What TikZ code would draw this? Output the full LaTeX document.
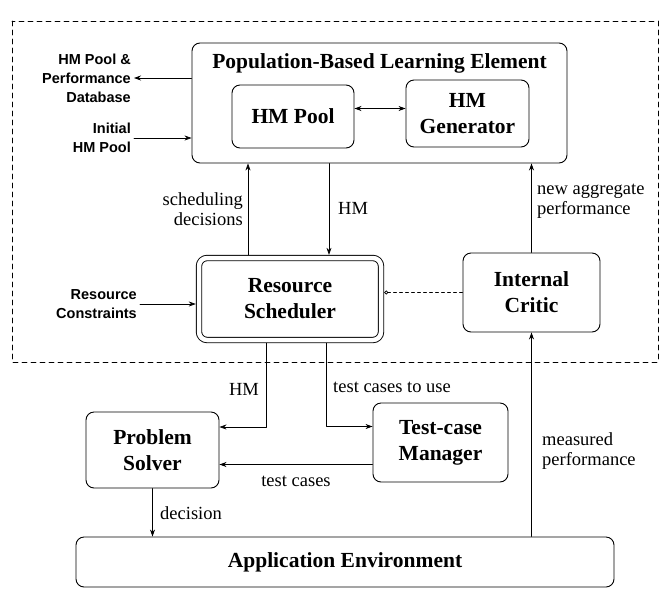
\documentclass[tikz,border=0pt]{standalone}
\usepackage{fontspec}
\setmainfont{Liberation Serif}
\newfontfamily\sidefont{Liberation Sans}
\usetikzlibrary{arrows.meta}
\tikzset{
  every picture/.style={line join=round, line cap=round, >={Stealth[length=7pt,width=5pt]}},
  block/.style={draw, line width=0.9pt, rounded corners=8pt, align=center,
    font=\bfseries\fontsize{21.5}{26}\selectfont},
  flow/.style={->, line width=0.7pt},
  sidelabel/.style={align=right, inner sep=3pt,
    font=\sidefont\bfseries\fontsize{14.5}{19}\selectfont},
  edgelabel/.style={align=left, inner sep=2pt, font=\fontsize{18.5}{20}\selectfont},
}

\begin{document}
\begin{tikzpicture}[x=1pt,y=-1pt]
\useasboundingbox (0,0) rectangle (662,590);
\draw[line width=0.8pt, dash pattern=on 5pt off 4pt] (12,21) rectangle (658,362);
% learning element
\node[block, minimum width=375pt, minimum height=120pt] (pble) at (379.5,103) {};
\node[font=\bfseries\fontsize{21.5}{26}\selectfont] (pbletitle) at (379.5,63) {Population-Based Learning Element};
\node[block, minimum width=122pt, minimum height=63pt] (pool) at (293,116.5) {HM Pool};
\node[block, minimum width=123pt, minimum height=67pt] (gen) at (467.5,113.5) {HM\\Generator};
% scheduler and critic
\node[block, double, double distance=4.5pt, outer sep=3.2pt,
  minimum width=182pt, minimum height=82pt] (rs) at (290,299) {Resource\\Scheduler};
\node[block, minimum width=137pt, minimum height=79pt] (ic) at (531.5,292.5) {Internal\\Critic};
% lower part
\node[block, minimum width=133pt, minimum height=76pt] (ps) at (152.5,450) {Problem\\Solver};
\node[block, minimum width=135pt, minimum height=79pt] (tcm) at (440.5,442.5) {Test-case\\Manager};
\node[block, minimum width=538pt, minimum height=50pt] (ae) at (345,562) {Application Environment};
% outside inputs and outputs
\node[sidelabel, anchor=east] (db) at (134,78) {HM Pool \&\\Performance\\Database};
\node[sidelabel, anchor=east] (init) at (134,138) {Initial\\HM Pool};
\node[sidelabel, anchor=east] (rc) at (140,304) {Resource\\Constraints};
\draw[flow] (pble.west |- db.east) -- (db.east);
\draw[flow] (init.east) -- (init.east -| pble.west);
\draw[flow] (rc.east) -- (rc.east -| rs.west);
% connectors
\draw[flow, <->] ([yshift=8pt]pool.east) -- ([yshift=8pt]pool.east -| gen.west);
\draw[flow] ([xshift=-42pt]rs.north) -- ([xshift=-42pt]rs.north |- pble.south);
\draw[flow] ([xshift=39pt]rs.north |- pble.south) -- ([xshift=39pt]rs.north);
\draw[flow] (ic.north) -- (ic.north |- pble.south);
\draw[dashed, line width=0.7pt, -{Circle[open,length=4pt]}] (ic.west) -- (ic.west -| rs.east);
\draw[flow] ([xshift=-24pt]rs.south) |- ([yshift=23pt]ps.east);
\draw[flow] ([xshift=36pt]rs.south) |- ([yshift=16pt]tcm.west);
\draw[flow] ([yshift=-22pt]tcm.west) -- ([yshift=-22pt]tcm.west -| ps.east);
\draw[flow] (ps.south) -- (ps.south |- ae.north);
\draw[flow] (ae.north -| ic.south) -- (ic.south);
% labels
\node[edgelabel, anchor=east, align=right] (sdlabel) at (245,209) {scheduling\\decisions};
\node[edgelabel, anchor=west] (hmlabel) at (336,208) {HM};
\node[edgelabel, anchor=west] (nalabel) at (535,201) {new aggregate\\performance};
\node[edgelabel] (hmlabel2) at (244,389) {HM};
\node[edgelabel, anchor=west] (tculabel) at (331,387) {test cases to use};
\node[edgelabel] (tclabel) at (296,481) {test cases};
\node[edgelabel, anchor=west] (declabel) at (158,513) {decision};
\node[edgelabel, anchor=west] (mplabel) at (540,451) {measured\\performance};
\end{tikzpicture}
\end{document}
